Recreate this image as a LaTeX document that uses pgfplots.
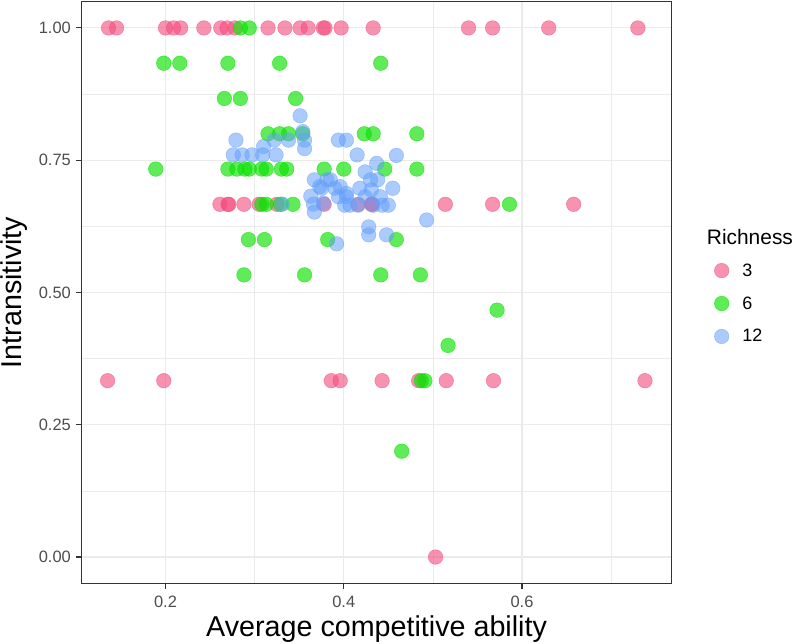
\documentclass[border=0pt]{standalone}
\usepackage{pgfplots}
\pgfplotsset{compat=1.18}
\usepackage{fontspec}
\setmainfont{Liberation Sans}

\definecolor{rich3}{RGB}{242,75,125}
\definecolor{rich6}{RGB}{10,225,0}
\definecolor{rich12}{RGB}{100,160,250}
\definecolor{grid92}{RGB}{235,235,235}
\definecolor{grey20}{RGB}{51,51,51}
\definecolor{grey30}{RGB}{77,77,77}

% Richness 3
\pgfplotstableread{
x y
0.136 1
0.145 1
0.200 1
0.209 1
0.217 1
0.243 1
0.262 1
0.269 1
0.278 1
0.315 1
0.334 1
0.351 1
0.360 1
0.377 1
0.379 1
0.397 1
0.433 1
0.540 1
0.567 1
0.630 1
0.730 1
0.261 0.6667
0.270 0.6667
0.271 0.6667
0.288 0.6667
0.305 0.6667
0.325 0.6667
0.378 0.6667
0.416 0.6667
0.431 0.6667
0.432 0.6667
0.514 0.6667
0.567 0.6667
0.658 0.6667
0.135 0.3333
0.198 0.3333
0.386 0.3333
0.396 0.3333
0.443 0.3333
0.484 0.3333
0.515 0.3333
0.568 0.3333
0.738 0.3333
0.503 0
}\richthree

% Richness 6
\pgfplotstableread{
x y
0.284 1
0.294 1
0.198 0.9333
0.216 0.9333
0.270 0.9333
0.328 0.9333
0.4415 0.9333
0.266 0.8667
0.284 0.8667
0.346 0.8667
0.315 0.8
0.328 0.8
0.338 0.8
0.354 0.8
0.423 0.8
0.433 0.8
0.482 0.8
0.189 0.7333
0.270 0.7333
0.280 0.7333
0.289 0.7333
0.294 0.7333
0.308 0.7333
0.313 0.7333
0.330 0.7333
0.336 0.7333
0.378 0.7333
0.400 0.7333
0.446 0.7333
0.482 0.7333
0.308 0.6667
0.313 0.6667
0.329 0.6667
0.343 0.6667
0.586 0.6667
0.293 0.6
0.311 0.6
0.382 0.6
0.459 0.6
0.288 0.5333
0.356 0.5333
0.4415 0.5333
0.486 0.5333
0.572 0.4667
0.517 0.4
0.487 0.3333
0.491 0.3333
0.465 0.2
}\richsix

% Richness 12
\pgfplotstableread{
x y
0.351 0.834
0.354 0.804
0.356 0.788
0.356 0.772
0.279 0.788
0.276 0.760
0.286 0.760
0.297 0.760
0.309 0.760
0.324 0.760
0.310 0.776
0.322 0.788
0.338 0.788
0.367 0.713
0.363 0.682
0.366 0.667
0.367 0.652
0.377 0.669
0.373 0.700
0.381 0.713
0.385 0.713
0.375 0.697
0.390 0.697
0.396 0.700
0.403 0.687
0.394 0.788
0.403 0.788
0.415 0.760
0.459 0.759
0.437 0.744
0.424 0.728
0.430 0.713
0.438 0.713
0.455 0.697
0.418 0.697
0.394 0.681
0.403 0.681
0.424 0.681
0.431 0.694
0.441 0.681
0.331 0.667
0.401 0.665
0.407 0.665
0.416 0.665
0.433 0.665
0.443 0.665
0.450 0.665
0.493 0.637
0.428 0.624
0.428 0.609
0.448 0.609
0.392 0.592
}\richtwelve

\begin{document}
\begin{tikzpicture}
\path[use as bounding box] (-81.5bp,-60.5bp) rectangle (711.5bp,583.5bp);
\begin{axis}[
    at={(0,0)}, anchor=south west,
    scale only axis, width=590.2bp, height=582bp,
    xmin=0.1057, xmax=0.768, ymin=-0.05, ymax=1.05,
    clip=false,
    axis line style={draw=grey20, line width=1.1bp},
    tick align=outside, tick pos=left,
    major tick length=5.5bp,
    tick style={draw=grey20, line width=1.1bp},
    xtick={0.2,0.4,0.6}, xticklabels={0.2,0.4,0.6},
    ytick={0,0.25,0.5,0.75,1}, yticklabels={0.00,0.25,0.50,0.75,1.00},
    minor xtick={0.3,0.5,0.7},
    minor ytick={0.125,0.375,0.625,0.875},
    minor tick length=0pt,
    grid=both,
    major grid style={draw=grid92, line width=1.1bp},
    minor grid style={draw=grid92, line width=0.55bp},
    xticklabel style={font=\fontsize{16.5}{16.5}\selectfont, text=grey30, inner sep=0pt, anchor=north, yshift=-6.5bp},
    yticklabel style={font=\fontsize{16.5}{16.5}\selectfont, text=grey30, inner sep=0pt, anchor=east, xshift=-5bp},
    legend style={at={(rel axis cs:1,1)}, anchor=north west, xshift=42.5bp, yshift=-261.6bp,
        draw=none, fill=none, inner sep=0pt, row sep=18.3bp,
        font=\fontsize{18}{18}\selectfont,
        nodes={inner sep=0pt},
        /tikz/every odd column/.append style={column sep=13.4bp}},
    legend cell align=left,
    legend image code/.code={\draw[mark repeat=2, mark phase=2] plot coordinates {(0bp,0bp) (7.5bp,0bp) (15bp,0bp)};},
]
\addplot[only marks, mark=*, mark size=7.3bp,
    mark options={fill=rich3, draw=rich3, fill opacity=0.6, draw opacity=0.6, line width=0.5bp}]
    table[x=x, y=y] {\richthree};
\addlegendentry{3}
\addplot[only marks, mark=*, mark size=7.3bp,
    mark options={fill=rich6, draw=rich6, fill opacity=0.65, draw opacity=0.65, line width=0.5bp}]
    table[x=x, y=y] {\richsix};
\addlegendentry{6}
\addplot[only marks, mark=*, mark size=7.3bp,
    mark options={fill=rich12, draw=rich12, fill opacity=0.55, draw opacity=0.55, line width=0.5bp}]
    table[x=x, y=y] {\richtwelve};
\addlegendentry{12}
\end{axis}
\node[font=\fontsize{28.8}{28.8}\selectfont, anchor=center] at (295.1bp,-45.7bp) {Average competitive ability};
\node[font=\fontsize{28.8}{28.8}\selectfont, anchor=center, rotate=90] at (-67bp,291bp) {Intransitivity};
\node[font=\fontsize{21}{21}\selectfont, anchor=base west, inner sep=0pt] at (625.2bp,338.5bp) {Richness};
\end{tikzpicture}
\end{document}
